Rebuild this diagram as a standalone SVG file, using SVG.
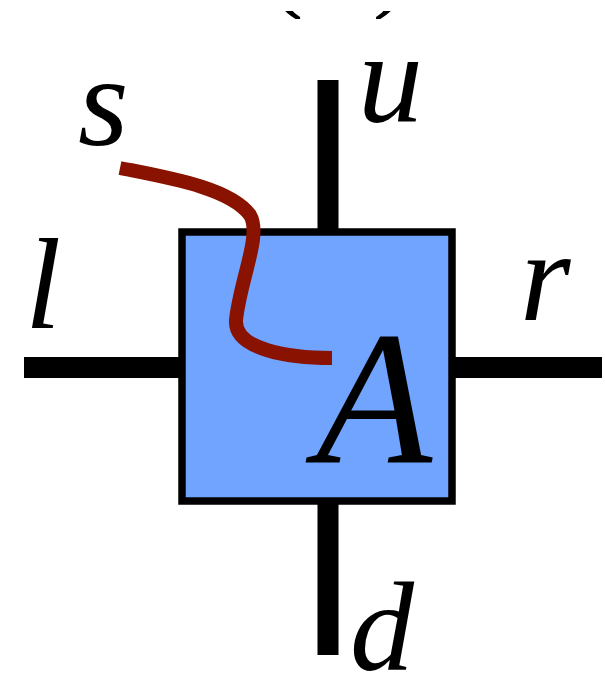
<svg xmlns="http://www.w3.org/2000/svg" width="605" height="678" viewBox="0 0 605 678">
<style>
.leg{stroke:#000;stroke-width:21;fill:none}
.lbl{font-family:"Liberation Serif","DejaVu Serif",serif;font-style:italic;fill:#000}
</style>
<defs>
<clipPath id="topclip"><rect x="0" y="11" width="605" height="8"/></clipPath>
</defs>
<rect width="605" height="678" fill="#fff"/>
<g clip-path="url(#topclip)">
<text x="343" y="-2" text-anchor="middle" font-family="Liberation Serif, serif" font-size="110" letter-spacing="10" fill="#000">(a)</text>
</g>
<g id="connectors">
<line class="leg" x1="328" y1="80" x2="328" y2="232"/>
<line class="leg" x1="328" y1="501" x2="328" y2="655"/>
<line class="leg" x1="24" y1="367.5" x2="183" y2="367.5"/>
<line class="leg" x1="452" y1="367.5" x2="602" y2="367.5"/>
</g>
<g id="nodeA">
<rect x="182" y="232" width="270" height="269" fill="#70a4fe" stroke="#000" stroke-width="7.5"/>
<text class="lbl" x="316" y="463" font-size="190">A</text>
</g>
<g id="string-s">
<path d="M120,168 C170,178 230,188 250,215 C262,235 240,280 236,320 C234,350 290,358 332,358" fill="none" stroke="#8a1200" stroke-width="14"/>
</g>
<g id="labels">
<text class="lbl" x="78" y="145" font-size="130">s</text>
<text class="lbl" x="358" y="121" font-size="130">u</text>
<text class="lbl" x="25" y="328" font-size="130">l</text>
<text class="lbl" x="520" y="320" font-size="130">r</text>
<text class="lbl" x="350" y="670" font-size="128">d</text>
</g>
</svg>
